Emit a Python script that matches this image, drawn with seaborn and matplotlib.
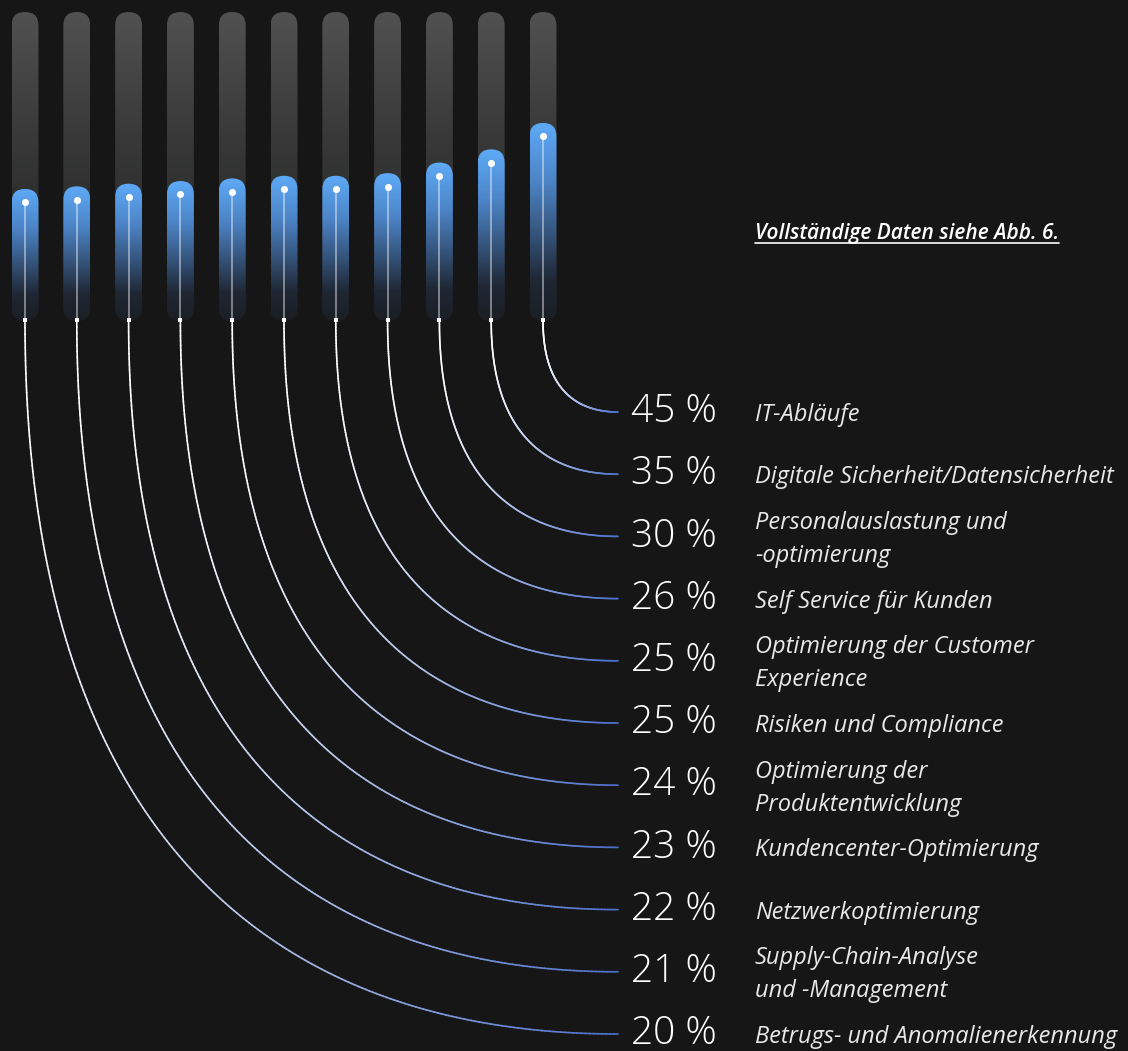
import numpy as np
import pandas as pd
import matplotlib
matplotlib.use("Agg")
import matplotlib.pyplot as plt
import seaborn as sns
from matplotlib.patches import FancyBboxPatch
from matplotlib.collections import LineCollection
from matplotlib.colors import LinearSegmentedColormap, to_rgb

# ---- data (top row of the label list first) ----
categories = [
    "IT-Abläufe",
    "Digitale Sicherheit/Datensicherheit",
    "Personalauslastung und\n-optimierung",
    "Self Service für Kunden",
    "Optimierung der Customer\nExperience",
    "Risiken und Compliance",
    "Optimierung der\nProduktentwicklung",
    "Kundencenter-Optimierung",
    "Netzwerkoptimierung",
    "Supply-Chain-Analyse\nund -Management",
    "Betrugs- und Anomalienerkennung",
]
values = [45, 35, 30, 26, 25, 25, 24, 23, 22, 21, 20]
footnote = "Vollständige Daten siehe Abb. 6."

# ---- style ----
sns.set_theme(style="dark")
plt.rcParams["font.family"] = ["Open Sans", "DejaVu Sans"]

W, H = 1128, 1051
BG = "#161616"
WHITE = "#ffffff"
LINE_BLUE = "#4a70cc"

FLOOR, CEIL = -30, 87          # value range of the bar panel
SLOT_PX = 51.8                 # horizontal distance between bars
FIRST_BAR_PX = 25
PANEL_TOP, PANEL_BOTTOM, PANEL_RIGHT = 12, 321, 570
BAR_WIDTH = 0.52

ROW0_Y, ROW_STEP = 412, 62.2   # label rows
LINE_END_X = 618
PCT_X, LABEL_X = 631, 755

fig = plt.figure(figsize=(W / 100, H / 100), dpi=100, facecolor=BG)

# ---- bar panel ----
ax_b = fig.add_axes([0, (H - PANEL_BOTTOM) / H, PANEL_RIGHT / W,
                     (PANEL_BOTTOM - PANEL_TOP) / H])
ax_b.set_facecolor("none")

df = pd.DataFrame({"category": categories[::-1], "value": values[::-1]})
sns.barplot(data=df, x="category", y="value", order=df["category"],
            ax=ax_b, width=BAR_WIDTH, color="#5aa8f5")

xlim = (-FIRST_BAR_PX / SLOT_PX, (PANEL_RIGHT - FIRST_BAR_PX) / SLOT_PX)
ax_b.set_xlim(*xlim)
ax_b.set_ylim(FLOOR, CEIL)
ax_b.axis("off")

# units-per-pixel ratio, used to keep the pill caps circular
px_w = PANEL_RIGHT
px_h = PANEL_BOTTOM - PANEL_TOP
aspect = ((CEIL - FLOOR) / px_h) / ((xlim[1] - xlim[0]) / px_w)

track_cmap = LinearSegmentedColormap.from_list(
    "track", [(0, "#515151"), (0.4, "#393939"), (0.7, "#2a2b2c"), (1, "#1c1f23")])
bar_cmap = LinearSegmentedColormap.from_list(
    "bar", [(0, "#5eaaf7"), (0.3, "#4c84c6"), (0.55, "#36567f"),
            (0.8, "#1f2734"), (1, "#1b1f24")])
grad = np.linspace(0, 1, 256)[:, None]


def pill(x0, w, y0, y1, cmap, z):
    patch = FancyBboxPatch((x0, y0), w, y1 - y0,
                           boxstyle=f"round,pad=0,rounding_size={w / 2}",
                           mutation_aspect=aspect, facecolor="none",
                           edgecolor="none", zorder=z)
    ax_b.add_patch(patch)
    im = ax_b.imshow(grad, extent=[x0, x0 + w, y0, y1], aspect="auto",
                     cmap=cmap, origin="upper", interpolation="bilinear",
                     zorder=z)
    im.set_clip_path(patch)


bar_geo = []
for p in list(ax_b.patches):
    x0, w, top = p.get_x(), p.get_width(), p.get_height()
    p.set_visible(False)
    pill(x0, w, FLOOR, CEIL, track_cmap, 1)
    pill(x0, w, FLOOR, top, bar_cmap, 2)
    xc = x0 + w / 2
    dot_y = top - (w / 2) * aspect
    ax_b.plot([xc, xc], [FLOOR, dot_y], color=WHITE, alpha=0.55, lw=1.1,
              zorder=3, solid_capstyle="butt")
    ax_b.scatter([xc], [dot_y], s=26, color=WHITE, zorder=4, linewidths=0)
    ax_b.scatter([xc], [FLOOR + 0.4], s=7, marker="s", color=WHITE,
                 zorder=4, linewidths=0)
    bar_geo.append(xc)

ax_b.set_xlim(*xlim)
ax_b.set_ylim(FLOOR, CEIL)

# ---- overlay in figure pixels for connectors and labels ----
ax_o = fig.add_axes([0, 0, 1, 1])
ax_o.set_xlim(0, W)
ax_o.set_ylim(H, 0)
ax_o.axis("off")
ax_o.set_facecolor("none")

n = len(values)
row_y = [ROW0_Y + j * ROW_STEP for j in range(n)]

to_overlay = ax_o.transData.inverted()
white_rgb = np.array(to_rgb(WHITE))
blue_rgb = np.array(to_rgb(LINE_BLUE))
K_DOWN, K_ACROSS = 0.75, 0.55   # control-handle lengths of the connectors
t = np.linspace(0, 1, 240)
for i, xc in enumerate(bar_geo):
    j = n - 1 - i
    sx, sy = to_overlay.transform(ax_b.transData.transform((xc, FLOOR)))
    ex, ey = LINE_END_X, row_y[j]
    p0 = np.array([sx, sy])
    p1 = np.array([sx, sy + K_DOWN * (ey - sy)])
    p2 = np.array([ex - K_ACROSS * (ex - sx), ey])
    p3 = np.array([ex, ey])
    tt = t[:, None]
    pts = ((1 - tt) ** 3) * p0 + 3 * ((1 - tt) ** 2) * tt * p1 \
        + 3 * (1 - tt) * tt ** 2 * p2 + tt ** 3 * p3
    segs = np.stack([pts[:-1], pts[1:]], axis=1)
    s = ((t[:-1] + t[1:]) / 2) ** 1.6
    cols = white_rgb * (1 - s[:, None]) + blue_rgb * s[:, None]
    lc = LineCollection(segs, colors=cols, linewidths=1.2, capstyle="round")
    ax_o.add_collection(lc)

for j, (cat, v) in enumerate(zip(categories, values)):
    ax_o.text(PCT_X, row_y[j], f"{v} %", fontsize=28, color=WHITE,
              fontweight="light", ha="left", va="center")
    ax_o.text(LABEL_X, row_y[j] + 3, cat, fontsize=17, style="italic",
              color="#e8e8e8", ha="left", va="center", linespacing=1.5)

note = ax_o.text(LABEL_X, 233, footnote, fontsize=15, style="italic",
                 fontweight="semibold", color=WHITE, ha="left", va="center")
fig.canvas.draw()
bb = note.get_window_extent()
(ux0, uy), (ux1, _) = to_overlay.transform([[bb.x0, bb.y0], [bb.x1, bb.y0]])
ax_o.plot([ux0, ux1], [uy - 1, uy - 1], color=WHITE, lw=1.2)

fig.savefig("out.png", dpi=100, facecolor=BG)
